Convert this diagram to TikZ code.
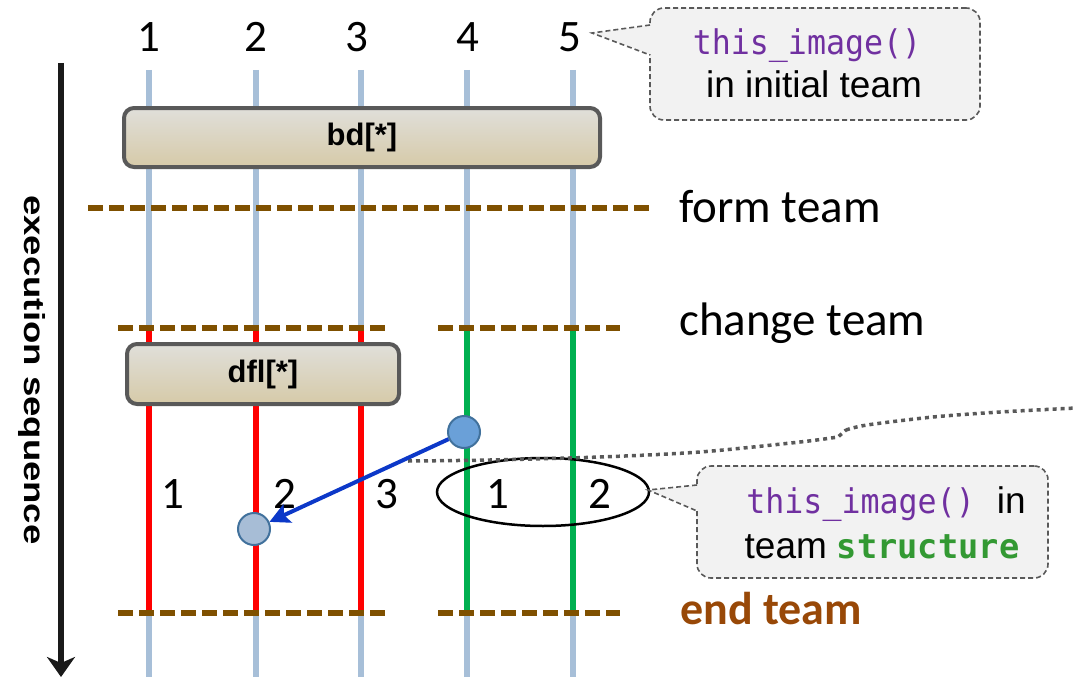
\documentclass[tikz,border=0pt]{standalone}
\usepackage{fontspec}
\setmainfont{Carlito}
\newfontfamily\arialf{Liberation Sans}
\newfontfamily\monof{DejaVu Sans Mono}
\usetikzlibrary{arrows.meta,shapes.geometric}

\definecolor{lane}{RGB}{167,191,216}
\definecolor{teambrown}{RGB}{127,80,0}
\definecolor{endbrown}{RGB}{152,72,7}
\definecolor{teamred}{RGB}{255,0,0}
\definecolor{teamgreen}{RGB}{0,176,80}
\definecolor{boxedge}{RGB}{89,89,89}
\definecolor{boxtop}{RGB}{224,223,218}
\definecolor{boxmid}{RGB}{240,235,218}
\definecolor{boxbot}{RGB}{214,202,168}
\definecolor{dotfill}{RGB}{106,160,216}
\definecolor{dotpale}{RGB}{167,189,214}
\definecolor{dotedge}{RGB}{65,113,156}
\definecolor{arrowblue}{RGB}{12,56,200}
\definecolor{codepurple}{RGB}{112,48,160}
\definecolor{codegreen}{RGB}{51,153,51}
\definecolor{notefill}{RGB}{242,242,242}
\definecolor{noteedge}{RGB}{89,89,89}
\definecolor{arrowdark}{RGB}{26,26,26}

\newcommand\fsz[1]{\fontsize{#1}{#1}\selectfont}
% code text: slightly condensed mono
\newcommand\codetxt[3]{\scalebox{#1}[1]{\monof#2\fsz{34}#3}}

\begin{document}
\begin{tikzpicture}[x=1pt,y=-1pt,
  lanestyle/.style={draw=lane,line width=6pt},
  redlane/.style={draw=teamred,line width=6pt},
  greenlane/.style={draw=teamgreen,line width=6pt},
  teamline/.style={draw=teambrown,line width=6pt,dash pattern=on 15pt off 6pt},
  numlabel/.style={font=\fsz{45},inner sep=0pt,anchor=base},
  teamlabel/.style={font=\fsz{47},inner sep=0pt,anchor=base west},
  opbox/.style={rounded corners=10pt,draw=boxedge,line width=4pt,
    top color=boxtop,middle color=boxmid,bottom color=boxbot,
    font=\arialf\bfseries\fsz{31},inner sep=0pt},
  dot/.style={circle,minimum size=32pt,inner sep=0pt,line width=2pt,draw=dotedge},
  bluearrow/.style={draw=arrowblue,line width=4pt,
    -{Stealth[length=20pt,width=20pt,inset=4pt]}},
  notebox/.style={rounded corners=14pt,draw=noteedge,fill=notefill,
    line width=1.6pt,dash pattern=on 5pt off 3pt,inner sep=0pt},
  notetip/.style={draw=noteedge,line width=1.6pt,dash pattern=on 5pt off 3pt},
  notetext/.style={inner sep=0pt,anchor=base},
  execarrow/.style={draw=arrowdark,line width=6pt,
    -{Stealth[length=20pt,width=28pt,inset=6pt]}},
]
\useasboundingbox (0,0) rectangle (1076,677);

% image lanes
\foreach \n/\x in {1/149,2/256,3/361,4/467,5/573}{
  \coordinate (lt\n) at (\x,70);
  \coordinate (lb\n) at (\x,677);
  \coordinate (ct\n) at (\x,328);
  \coordinate (cb\n) at (\x,613);
  \draw[lanestyle] (lt\n) -- (lb\n);
}
% lanes inside the changed teams
\foreach \n in {1,2,3}{\draw[redlane] (ct\n) -- (cb\n);}
\foreach \n in {4,5}{\draw[greenlane] (ct\n) -- (cb\n);}

% image numbers on top
\foreach \n/\x in {1/149,2/256,3/357,4/468,5/570}{
  \node[numlabel] (top\n) at (\x,52) {\n};
}

% synchronisation lines
\coordinate (fa) at (88,208);  \coordinate (fb) at (650,208);
\coordinate (ca) at (118,328); \coordinate (cb) at (390,328);
\coordinate (cc) at (438,328); \coordinate (cd) at (620,328);
\coordinate (ea) at (118,613); \coordinate (eb) at (390,613);
\coordinate (ec) at (438,613); \coordinate (ed) at (620,613);
\draw[teamline] (fa) -- (fb);
\draw[teamline] (ca) -- (cb);
\draw[teamline] (cc) -- (cd);
\draw[teamline] (ea) -- (eb);
\draw[teamline] (ec) -- (ed);

\node[teamlabel] (form) at (679,222) {form team};
\node[teamlabel] (change) at (679,335) {change team};
\node[teamlabel,font=\bfseries\fsz{46},text=endbrown] (endt) at (680,624) {end team};

% coarray operations
\node[opbox,minimum width=476pt,minimum height=59pt] (bd) at (362,137.5) {bd[*]};
\node[opbox,minimum width=272pt,minimum height=60pt] (dfl) at (263,374) {dfl[*]};

% image numbers within the new teams
\node[numlabel] (n1) at (173,508) {1};
\node[numlabel] (n2) at (285,508) {2};
\node[numlabel] (n3) at (387,508) {3};
\node[numlabel] (n4) at (498,508) {1};
\node[numlabel] (n5) at (600,508) {2};
\node[ellipse,draw=black,line width=2.5pt,minimum width=212pt,minimum height=68pt] (grp) at (543,492) {};

% dotted boundary
\draw[draw=noteedge,line width=3.5pt,dash pattern=on 4pt off 4pt]
  plot[smooth,tension=0.5] coordinates {(408,461) (490,460) (600,457) (700,452) (800,442) (838,437)}
  -- (846,430)
  plot[smooth,tension=0.5] coordinates {(846,430) (867,425) (933,417) (1000,412) (1076,408)};

% remote access
\node[dot,fill=dotfill] (src) at (464,432) {};
\node[dot,fill=dotpale] (dst) at (254,529) {};
\draw[bluearrow] (src) -- (dst);

% execution direction
\coordinate (xtop) at (61,63);
\coordinate (xbot) at (61,677);
\draw[execarrow] (xtop) -- (xbot);
\node[rotate=-90,inner sep=0pt] (exec) at (32,370)
  {\scalebox{1.26}[1]{\arialf\bfseries\fsz{29}execution sequence}};

% note on the initial team
\node[notebox,minimum width=330pt,minimum height=112pt] (topnote) at (815,64) {};
\coordinate (tipa) at (592,33);
\coordinate (tba) at (650,25);
\coordinate (tbb) at (650,55);
\fill[notefill] (652,25) -- (tipa) -- (652,55) -- cycle;
\draw[notetip] (tba) -- (tipa) -- (tbb);
\node[notetext,text=codepurple] (tn1) at (807,55) {\codetxt{0.93}{}{this\_image()}};
\node[notetext,font=\arialf\fsz{37}] (tn2) at (814,97) {in initial team};

% note on the team structure
\node[notebox,minimum width=351pt,minimum height=112pt] (botnote) at (872.5,522) {};
\coordinate (tipb) at (648,490);
\coordinate (bba) at (697,485);
\coordinate (bbb) at (697,511);
\fill[notefill] (699,485) -- (tipb) -- (699,511) -- cycle;
\draw[notetip] (bba) -- (tipb) -- (bbb);
\node[notetext] (bn1) at (886,513)
  {{\color{codepurple}\codetxt{0.93}{}{this\_image()}}\hspace{22pt}{\arialf\fsz{37}in}};
\node[notetext] (bn2) at (882,558)
  {{\arialf\fsz{37}team}\hspace{10pt}{\color{codegreen}\codetxt{0.99}{\bfseries}{structure}}};
\end{tikzpicture}
\end{document}
